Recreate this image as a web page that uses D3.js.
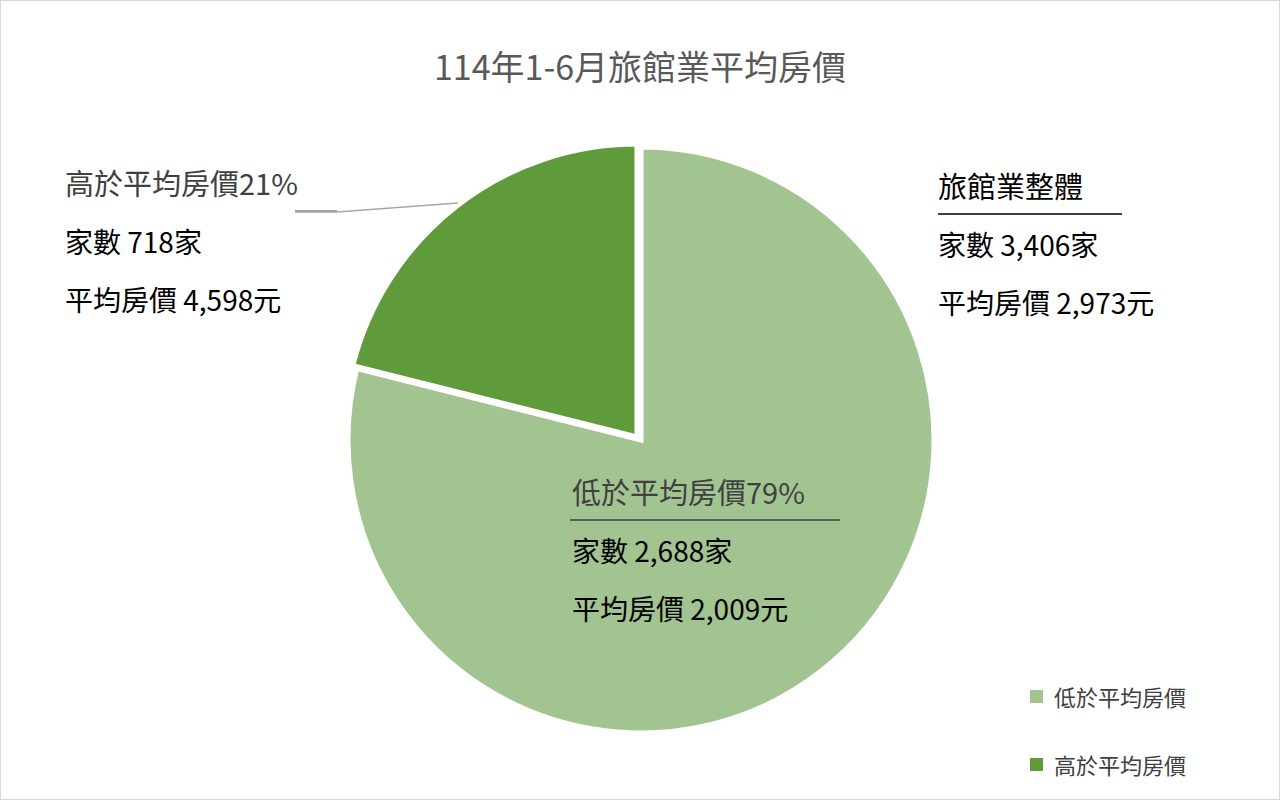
<!DOCTYPE html>
<html><head><meta charset="utf-8">
<script src="https://cdn.jsdelivr.net/npm/d3@7"></script>
<style>body{margin:0;background:#fff;font-family:"Noto Sans CJK TC","Noto Sans",sans-serif}</style>
</head><body>
<svg id="c" width="1280" height="800"></svg>
<script>
const categories = ["低於平均房價","高於平均房價"];
const counts = [2688, 718];
const percents = ["79%","21%"];
const prices = ["2,009","4,598"];
const colors = ["#a1c490","#5f9a3b"];
const totalCount = "3,406";
const totalPrice = "2,973";

const svg = d3.select("#c");
svg.append("rect").attr("x",0.5).attr("y",0.5).attr("width",1279).attr("height",799).attr("fill","#fff").attr("stroke","#d9d9d9");
svg.append("text").attr("x",640).attr("y",80).attr("text-anchor","middle").attr("font-size",34).attr("fill","#595959").text("114年1-6月旅館業平均房價");

const cx=641, cy=440, r=293;
const pie = d3.pie().sort(null).value(d=>d)(counts);
const arc = d3.arc().innerRadius(0).outerRadius(r);
svg.append("g").attr("transform",`translate(${cx},${cy})`).selectAll("path").data(pie).join("path")
  .attr("d",arc).attr("fill",(d,i)=>colors[i]).attr("stroke","#fff").attr("stroke-width",5)
  .attr("transform",(d,i)=>i===1?"translate(-4,-3)":"");

function block(x,y,lines,underline,color0){
  lines.forEach((t,i)=>{
    svg.append("text").attr("x",x).attr("y",y+i*58).attr("font-size",i===0?29:28)
      .attr("fill",i===0?color0:"#000").text(t);
  });
  if(underline) svg.append("line").attr("x1",underline[0]).attr("x2",underline[1]).attr("y1",y+16).attr("y2",y+16).attr("stroke",underline[2]).attr("stroke-width",1.5);
}
block(938,198,["旅館業整體","家數 "+totalCount+"家","平均房價 "+totalPrice+"元"],[938,1122,"#000"],"#000");
block(65,195,[categories[1]+percents[1],"家數 "+counts[1]+"家","平均房價 "+prices[1]+"元"],[295,337,"#7f7f7f"],"#404040");
block(572,504,[categories[0]+percents[0],"家數 "+d3.format(",")(counts[0])+"家","平均房價 "+prices[0]+"元"],[570,840,"#404040"],"#404040");
svg.append("polyline").attr("points","295,212 337,212 458,203").attr("fill","none").attr("stroke","#a6a6a6").attr("stroke-width",1.5);

categories.forEach((c,i)=>{
  const y=697+i*68;
  svg.append("rect").attr("x",1030).attr("y",y-7).attr("width",13).attr("height",13).attr("fill",colors[i]);
  svg.append("text").attr("x",1054).attr("y",y+9).attr("font-size",22).attr("fill","#404040").text(c);
});
</script></body></html>
